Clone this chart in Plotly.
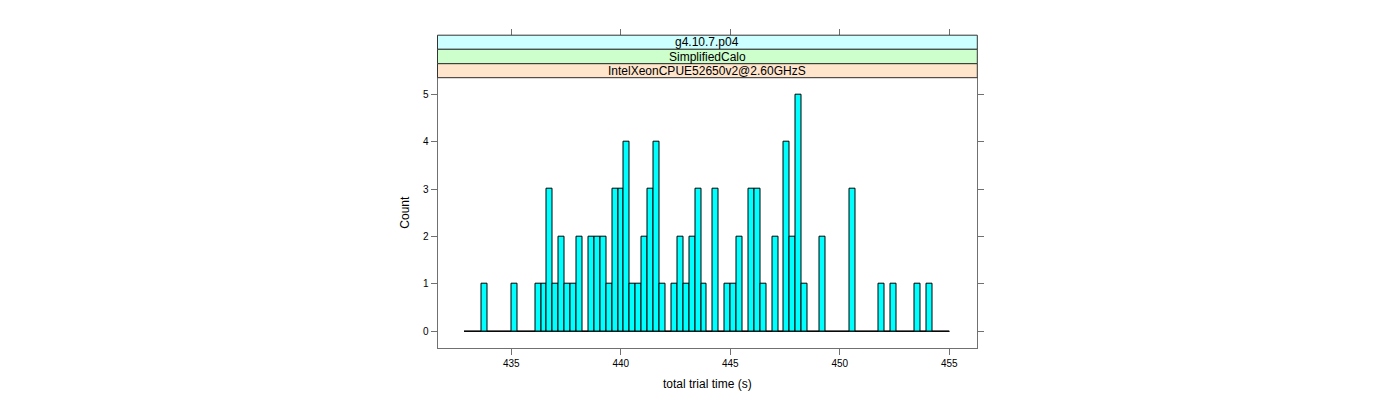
import numpy as np
import plotly.graph_objects as go

# ---- data ----
bin_start = 432.84
bin_width = 0.2706
counts = [0, 0, 0, 1, 0, 0, 0, 0, 1, 0,
          0, 0, 1, 1, 3, 1, 2, 1, 1, 2,
          0, 2, 2, 2, 1, 3, 3, 4, 1, 1,
          2, 3, 4, 1, 0, 1, 2, 1, 2, 3,
          1, 0, 3, 0, 1, 1, 2, 0, 3, 3,
          1, 0, 2, 0, 4, 2, 5, 1, 0, 0,
          2, 0, 0, 0, 0, 3, 0, 0, 0, 0,
          1, 0, 1, 0, 0, 0, 1, 0, 1, 0,
          0, 0]
x_ticks = [435, 440, 445, 450, 455]
y_ticks = [0, 1, 2, 3, 4, 5]
strip_labels = ["g4.10.7.p04", "SimplifiedCalo", "IntelXeonCPUE52650v2@2.60GHzS"]
strip_colors = ["#CCFFFF", "#CCFFCC", "#FFE5CC"]
x_title = "total trial time (s)"
y_title = "Count"

edges = bin_start + bin_width * np.arange(len(counts) + 1)
centers = (edges[:-1] + edges[1:]) / 2

W, H = 1400, 400
px_left, px_right, px_top, px_bottom = 437.5, 977.3, 77.7, 347.7
xdom = [px_left / W, px_right / W]
ydom = [(H - px_bottom) / H, (H - px_top) / H]

FONT = "Liberation Sans, Arial, sans-serif"
AX = "#707070"

fig = go.Figure()
fig.add_trace(go.Bar(
    x=centers, y=counts, width=bin_width,
    marker=dict(color="#00FFFF", line=dict(color="black", width=1)),
    showlegend=False, hoverinfo="x+y"))
fig.add_trace(go.Scatter(
    x=[edges[0], edges[-1]], y=[0, 0], mode="lines",
    line=dict(color="black", width=0.8), xaxis="x2", yaxis="y",
    showlegend=False, hoverinfo="skip"))

fig.update_layout(
    width=W, height=H,
    margin=dict(l=0, r=0, t=0, b=0),
    paper_bgcolor="white", plot_bgcolor="white",
    font=dict(family=FONT, size=12, color="black"),
    bargap=0,
    xaxis=dict(domain=xdom, range=[431.63, 456.28], tickvals=x_ticks,
               ticks="outside", ticklen=6, tickcolor=AX, showgrid=False,
               zeroline=False, showline=True, linecolor=AX, linewidth=1,
               mirror=True, tickfont=dict(size=10), anchor="y"),
    xaxis2=dict(overlaying="x", matches="x", anchor="free",
                position=(H - 35.2) / H, side="top", tickvals=x_ticks,
                ticks="outside", ticklen=6, tickcolor=AX,
                showticklabels=False, showgrid=False, zeroline=False,
                showline=False),
    yaxis=dict(domain=ydom, range=[-0.346, 5.35], tickvals=y_ticks,
               ticks="outside", ticklen=6, tickcolor=AX, showgrid=False,
               zeroline=False, showline=True, linecolor=AX, linewidth=1,
               mirror="ticks", tickfont=dict(size=10), anchor="x"),
)

# strips above the panel
strip_px = [35.2, 49.3, 63.7, 77.7]
shapes = []
annotations = []
for i, (lab, col) in enumerate(zip(strip_labels, strip_colors)):
    y_top = (H - strip_px[i]) / H
    y_bot = (H - strip_px[i + 1]) / H
    shapes.append(dict(type="rect", xref="paper", yref="paper",
                       x0=xdom[0], x1=xdom[1], y0=y_bot, y1=y_top,
                       fillcolor=col, line=dict(color="#333333", width=1),
                       layer="above"))
    annotations.append(dict(text=lab, xref="paper", yref="paper",
                            x=(xdom[0] + xdom[1]) / 2, y=(y_top + y_bot) / 2,
                            showarrow=False, xanchor="center", yanchor="middle",
                            font=dict(size=12, family=FONT)))

annotations.append(dict(text=x_title, xref="paper", yref="paper",
                        x=(xdom[0] + xdom[1]) / 2, y=(H - 384) / H,
                        showarrow=False, xanchor="center", yanchor="middle",
                        font=dict(size=12, family=FONT)))
annotations.append(dict(text=y_title, xref="paper", yref="paper",
                        x=405 / W, y=(ydom[0] + ydom[1]) / 2, textangle=-90,
                        showarrow=False, xanchor="center", yanchor="middle",
                        font=dict(size=12, family=FONT)))
fig.update_layout(shapes=shapes, annotations=annotations)

fig.write_html("out.html", config={"displayModeBar": False},
               post_script="document.body.style.margin='0';document.body.style.padding='0';")
